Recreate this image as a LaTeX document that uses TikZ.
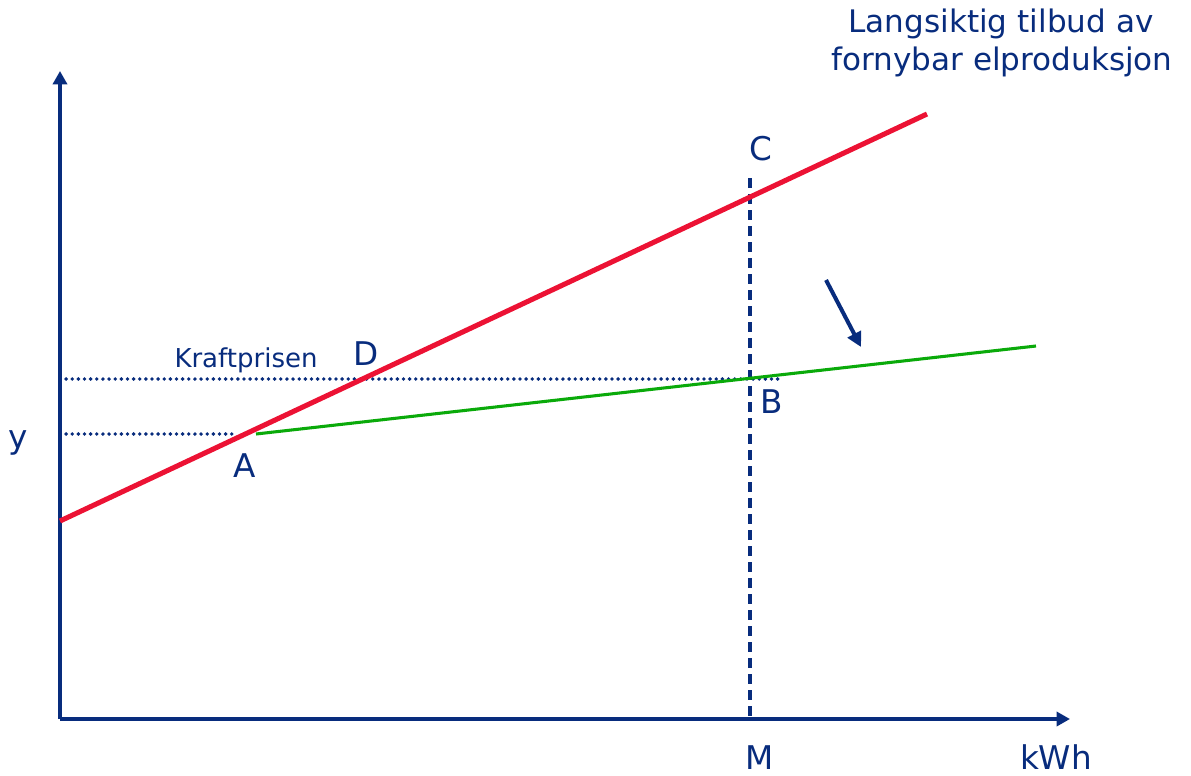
\documentclass[tikz,border=0pt]{standalone}
\usepackage{fontspec}
\setmainfont{DejaVu Sans}
\usetikzlibrary{arrows.meta}
\definecolor{navyblue}{RGB}{8,44,125}
\definecolor{supplyred}{RGB}{236,18,52}
\definecolor{costgreen}{RGB}{10,170,10}
\begin{document}
\begin{tikzpicture}[x=0.75pt,y=0.75pt,yscale=-1,xscale=1,
    axis/.style={navyblue, line width=3.5pt, -{Triangle[width=10.5pt,length=10pt]}},
    pricedots/.style={navyblue, line width=2.9pt, line cap=round, dash pattern=on 0pt off 4.6pt},
    mline/.style={navyblue, line width=2.5pt, dash pattern=on 7.5pt off 4.5pt},
    lbl/.style={navyblue, inner sep=0pt, font=\fontsize{24.5}{29}\selectfont},
    titlelbl/.style={navyblue, inner sep=0pt, font=\fontsize{23.3}{28}\selectfont},
    smalllbl/.style={navyblue, inner sep=0pt, font=\fontsize{19.5}{23}\selectfont}]
    \useasboundingbox (0,0) rectangle (1191,775);

    % Points
    \coordinate (O) at (60,719);
    \coordinate (ytop) at (60,71);
    \coordinate (xend) at (1070,719);
    \coordinate (redstart) at (60,521);
    \coordinate (redend) at (927,114);
    \coordinate (greenstart) at (256,434);
    \coordinate (greenend) at (1036,346);
    \coordinate (priceleft) at (60,379);
    \coordinate (priceright) at (780,379);
    \coordinate (lowleft) at (60,434);
    \coordinate (lowright) at (234,434);
    \coordinate (mtop) at (750,178);
    \coordinate (mbottom) at (750,719);
    \coordinate (shiftstart) at (826,280);
    \coordinate (shiftend) at (861,347);

    % Dotted price lines
    \draw [pricedots] (priceleft) -- (priceright);
    \draw [pricedots] (lowleft) -- (lowright);
    % Dashed line at M
    \draw [mline] (mtop) -- (mbottom);

    % Axes
    \draw [axis] (O) -- (ytop);
    \draw [axis] (O) -- (xend);

    % Curves
    \draw [supplyred, line width=3.8pt] (redstart) -- (redend);
    \draw [costgreen, line width=2.3pt] (greenstart) -- (greenend);

    % Shift arrow
    \draw [navyblue, line width=3pt, -{Triangle[width=11pt,length=11pt]}] (shiftstart) -- (shiftend);

    % Text Nodes
    \node (title1) [titlelbl, anchor=base] at (1001,32) {Langsiktig tilbud av};
    \node (title2) [titlelbl, anchor=base] at (1002,70) {fornybar elproduksjon};
    \node (kraft) [smalllbl, anchor=base] at (246,367) {Kraftprisen};
    \node (C) [lbl, anchor=base] at (761,160) {C};
    \node (D) [lbl, anchor=base] at (366,365) {D};
    \node (B) [lbl, anchor=base] at (772,413) {B};
    \node (A) [lbl, anchor=base] at (245,477) {A};
    \node (y) [lbl, anchor=base] at (18,448) {y};
    \node (M) [lbl, anchor=base] at (760,769) {M};
    \node (kwh) [lbl, anchor=base] at (1056,769) {kWh};
\end{tikzpicture}
\end{document}
